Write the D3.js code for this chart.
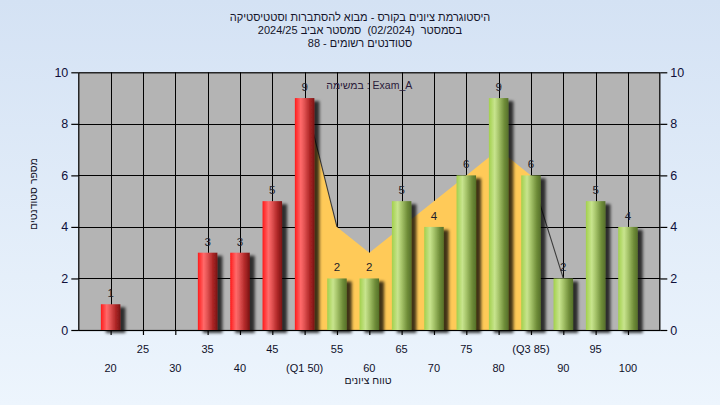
<!DOCTYPE html>
<html><head><meta charset="utf-8">
<script src="https://cdn.jsdelivr.net/npm/d3@7"></script>
<style>html,body{margin:0;padding:0;}svg{display:block;}text{white-space:pre;}</style>
</head><body>
<svg id="c" width="720" height="405"></svg>
<script>
const categories = ["20","25","30","35","40","45","(Q1 50)","55","60","65","70","75","80","(Q3 85)","90","95","100"];
const counts =     [1,   0,   0,   3,   3,   5,   9,        2,   2,   5,   4,   6,   9,   6,        2,   5,   4];
const redCats = ["20","25","30","35","40","45","(Q1 50)"];
const trendCats = ["(Q1 50)","55","60","65","70","75","80","(Q3 85)","90"];
const trendVals = [9,4,3,4,5,6,7,6,2];
const yTicks = [0,2,4,6,8,10];
const titleLines = ["היסטוגרמת ציונים בקורס - מבוא להסתברות וסטטיסטיקה","בסמסטר  (02/2024)  סמסטר אביב 2024/25","סטודנטים רשומים - 88"];
const noteText = "במשימה : Exam_A";
const xTitle = "טווח ציונים";
const yTitle = "מספר סטודנטים";

const svg = d3.select("#c");
const W=720,H=405;
const L=78.3,R=660.3,T=72.3,B=330;
const defs = svg.append("defs");
const bg = defs.append("linearGradient").attr("id","bg").attr("x1",0).attr("y1",0).attr("x2",0).attr("y2",1);
bg.append("stop").attr("offset","0%").attr("stop-color","#d4e2f4");
bg.append("stop").attr("offset","100%").attr("stop-color","#edf5fd");
function barGrad(id, stops){
  const g = defs.append("linearGradient").attr("id",id).attr("x1",0).attr("y1",0).attr("x2",1).attr("y2",0);
  stops.forEach(s=>g.append("stop").attr("offset",s[0]).attr("stop-color",s[1]));
}
barGrad("red",[["0%","#ff1a1a"],["30%","#ff6a6a"],["45%","#e85858"],["75%","#b02828"],["100%","#7a1414"]]);
barGrad("green",[["0%","#a2d04c"],["30%","#c8e48e"],["50%","#a6c46a"],["80%","#6e8c38"],["100%","#56702a"]]);
const f = defs.append("filter").attr("id","sh").attr("x","-30%").attr("y","-10%").attr("width","180%").attr("height","130%");
f.append("feDropShadow").attr("dx",5).attr("dy",3).attr("stdDeviation",1.6).attr("flood-color","#000").attr("flood-opacity",0.75);

svg.append("rect").attr("width",W).attr("height",H).attr("fill","url(#bg)");

const x = d3.scalePoint().domain(categories).range([L,R]).padding(1);
const y = d3.scaleLinear().domain([0,10]).range([B,T]);

svg.append("rect").attr("x",L).attr("y",T).attr("width",R-L).attr("height",B-T).attr("fill","#b4b4b4");

// grid
const g = svg.append("g");
g.selectAll(".hg").data(yTicks.filter(d=>d>0&&d<10)).join("line")
 .attr("x1",L).attr("x2",R).attr("y1",d=>Math.round(y(d))+0.5).attr("y2",d=>Math.round(y(d))+0.5)
 .attr("stroke","#000").attr("stroke-width",1);
g.selectAll(".vg").data(categories).join("line")
 .attr("x1",d=>Math.round(x(d))+0.5).attr("x2",d=>Math.round(x(d))+0.5).attr("y1",T).attr("y2",B)
 .attr("stroke","#000").attr("stroke-width",1);

// trend area (Q1..Q3) and edge lines
const tp = trendCats.map((c,i)=>({c,v:trendVals[i]}));
const areaPts = tp.slice(0,8);
svg.append("path").datum(areaPts)
 .attr("d", d3.area().x(d=>x(d.c)).y0(B).y1(d=>y(d.v)))
 .attr("fill","#ffca58");
const line = d3.line().x(d=>x(d.c)).y(d=>y(d.v));
[tp.slice(0,2), tp.slice(7,9)].forEach(seg=>{
  svg.append("path").datum(seg).attr("d",line).attr("fill","none").attr("stroke","#3a3a3a").attr("stroke-width",1.1);
});

// frame
svg.append("rect").attr("x",L+0.5).attr("y",T+0.5).attr("width",R-L-1).attr("height",B-T).attr("fill","none").attr("stroke","#000").attr("stroke-width",1.2);

// bars
const bw = 19.5;
const data = categories.map((c,i)=>({c,v:counts[i]})).filter(d=>d.v>0);
svg.append("g").selectAll("rect").data(data).join("rect")
 .attr("x",d=>x(d.c)-bw/2).attr("y",d=>y(d.v)).attr("width",bw).attr("height",d=>B-y(d.v))
 .attr("fill",d=>redCats.includes(d.c)?"url(#red)":"url(#green)")
 .attr("filter","url(#sh)");

// bottom axis line redraw
svg.append("line").attr("x1",L).attr("x2",R).attr("y1",B+0.5).attr("y2",B+0.5).attr("stroke","#000").attr("stroke-width",1.2);

const fam = "Liberation Sans, Arial, sans-serif";
// value labels
svg.append("g").selectAll("text").data(data).join("text")
 .attr("x",d=>x(d.c)).attr("y",d=>y(d.v)-7).attr("text-anchor","middle")
 .attr("font-family",fam).attr("font-size",11.5).attr("fill","#1e1e2a")
 .text(d=>d.v);

// axes
const yl = svg.append("g").attr("transform",`translate(${L},0)`).call(d3.axisLeft(y).tickValues(yTicks).tickSize(7).tickPadding(3));
const yr = svg.append("g").attr("transform",`translate(${R},0)`).call(d3.axisRight(y).tickValues(yTicks).tickSize(7).tickPadding(3));
[yl,yr].forEach(a=>{
  a.select(".domain").remove();
  a.selectAll("line").attr("stroke","#000").attr("stroke-width",1.2);
  a.selectAll("text").attr("font-family",fam).attr("font-size",12.5).attr("fill","#10103a");
});
const xa = svg.append("g").attr("transform",`translate(0,${B})`).call(d3.axisBottom(x).tickSize(5).tickFormat(""));
xa.select(".domain").remove();
xa.selectAll("line").attr("stroke","#000").attr("stroke-width",1.2);
svg.append("g").selectAll("text").data(categories).join("text")
 .attr("x",d=>x(d)).attr("y",(d,i)=>i%2===1?352.5:372)
 .attr("text-anchor","middle").attr("font-family",fam).attr("font-size",11).attr("fill","#10102a")
 .text(d=>d);

// titles
svg.append("g").selectAll("text").data(titleLines).join("text")
 .attr("x",360).attr("y",(d,i)=>21+i*13).attr("text-anchor","middle").attr("direction","rtl")
 .attr("font-family",fam).attr("font-size",11).attr("fill","#14142a").text(d=>d);
svg.append("text").attr("x",(L+R)/2).attr("y",89).attr("text-anchor","middle").attr("direction","ltr")
 .attr("font-family",fam).attr("font-size",10.5).attr("fill","#2a1a3a").text(noteText);
svg.append("text").attr("x",368).attr("y",384).attr("text-anchor","middle").attr("direction","rtl")
 .attr("font-family",fam).attr("font-size",10.5).attr("fill","#14142a").text(xTitle);
svg.append("text").attr("transform","translate(37,194) rotate(-90)").attr("text-anchor","middle").attr("direction","rtl")
 .attr("font-family",fam).attr("font-size",10.5).attr("fill","#14142a").text(yTitle);
</script>
</body></html>
